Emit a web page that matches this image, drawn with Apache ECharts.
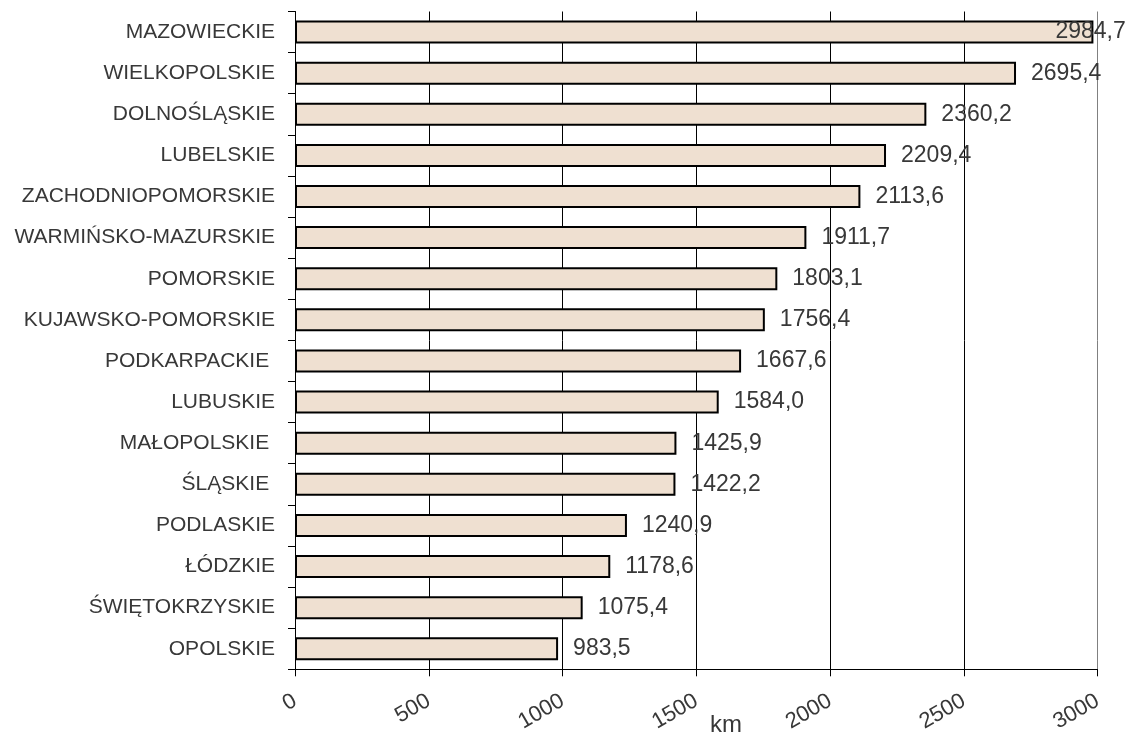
<!DOCTYPE html>
<html>
<head>
<meta charset="utf-8">
<script src="https://cdn.jsdelivr.net/npm/echarts@6/dist/echarts.min.js"></script>
<style>
  html, body { margin: 0; padding: 0; background: #fff; }
  #chart { width: 1130px; height: 735px; }
</style>
</head>
<body>
<div id="chart"></div>
<script>
// Voivodeships (top to bottom) and their lengths in km
const regions = [
  'MAZOWIECKIE', 'WIELKOPOLSKIE', 'DOLNOŚLĄSKIE', 'LUBELSKIE',
  'ZACHODNIOPOMORSKIE', 'WARMIŃSKO-MAZURSKIE', 'POMORSKIE', 'KUJAWSKO-POMORSKIE',
  'PODKARPACKIE ', 'LUBUSKIE', 'MAŁOPOLSKIE ', 'ŚLĄSKIE ',
  'PODLASKIE', 'ŁÓDZKIE', 'ŚWIĘTOKRZYSKIE', 'OPOLSKIE'
];
const lengthsKm = [
  2984.7, 2695.4, 2360.2, 2209.4,
  2113.6, 1911.7, 1803.1, 1756.4,
  1667.6, 1584.0, 1425.9, 1422.2,
  1240.9, 1178.6, 1075.4, 983.5
];
const axisMax = 3000;
const axisStep = 500;
const unitLabel = 'km';

const FONT = '"Liberation Sans", Arial, sans-serif';
const TEXT = '#383838';

const seriesData = lengthsKm.map((v, i) => {
  const item = { value: v };
  // the longest bar reaches the frame, so its label is pulled back over the bar
  if (i === 0) item.label = { offset: [-53, 0] };
  return item;
});

const chart = echarts.init(document.getElementById('chart'), null, { renderer: 'canvas' });
chart.setOption({
  backgroundColor: '#ffffff',
  animation: false,
  grid: { left: 295, right: 32.5, top: 11.5, bottom: 65.7, containLabel: false },
  xAxis: {
    type: 'value',
    min: 0,
    max: axisMax,
    interval: axisStep,
    axisLine: { show: true, lineStyle: { color: '#000', width: 1 } },
    axisTick: { show: true, length: 7, lineStyle: { color: '#000' } },
    splitLine: {
      show: true,
      lineStyle: { color: ['#000', '#000', '#000', '#000', '#000', '#000', '#808080'], width: 1 }
    },
    axisLabel: {
      rotate: 30,
      margin: 30,
      fontSize: 22,
      fontFamily: FONT,
      color: TEXT,
      formatter: v => String(v)
    }
  },
  yAxis: {
    type: 'category',
    inverse: true,
    data: regions,
    axisLine: { show: true, lineStyle: { color: '#000', width: 1 } },
    axisTick: { show: true, length: 7, lineStyle: { color: '#000' } },
    splitLine: { show: false },
    axisLabel: {
      margin: 20,
      fontSize: 21,
      fontFamily: FONT,
      color: TEXT
    }
  },
  graphic: [{
    type: 'text',
    left: 710,
    top: 713,
    style: { text: unitLabel, fontSize: 24, fontFamily: FONT, fill: TEXT }
  }],
  series: [{
    type: 'bar',
    data: seriesData,
    barWidth: 23,
    itemStyle: { color: '#EFE0D1', borderColor: '#000', borderWidth: 2 },
    label: {
      show: true,
      position: 'right',
      distance: 15,
      fontSize: 23,
      fontFamily: FONT,
      color: TEXT,
      formatter: p => p.value.toFixed(1).replace('.', ',')
    }
  }]
});
</script>
</body>
</html>
